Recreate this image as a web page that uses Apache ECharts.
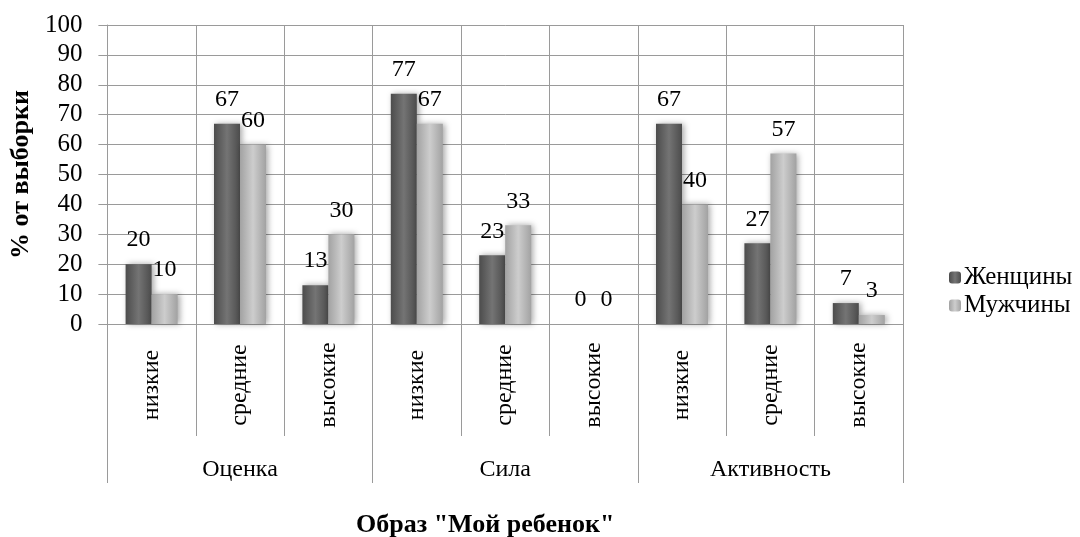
<!DOCTYPE html>
<html>
<head>
<meta charset="utf-8">
<script src="https://cdn.jsdelivr.net/npm/echarts@6/dist/echarts.min.js"></script>
<style>html,body{margin:0;padding:0;background:#fff}#c{width:1080px;height:537px}</style>
</head>
<body>
<div id="c"></div>
<script>
const levels = ['низкие','средние','высокие','низкие','средние','высокие','низкие','средние','высокие'];
const groups = ['Оценка','Сила','Активность'];
const women = [20, 67, 13, 77, 23, 0, 67, 27, 7];
const men = [10, 60, 30, 67, 33, 0, 40, 57, 3];
const seriesNames = ['Женщины','Мужчины'];
const yTicks = {min: 0, max: 100, interval: 10};
const yName = '% от выборки';
const xName = 'Образ "Мой ребенок"';

const FONT = "'Liberation Serif','Times New Roman',serif";
const chart = echarts.init(document.getElementById('c'));
function grad(edge, mid){
  return new echarts.graphic.LinearGradient(0,0,1,0,[
    {offset:0,color:edge},{offset:0.5,color:mid},{offset:1,color:edge}
  ]);
}
const gridColor = '#9a9a9a';
chart.setOption({
  animation:false,
  backgroundColor:'#fff',
  grid:{left:107,right:177,top:25,bottom:213},
  legend:{
    orient:'vertical', left:944, top:260,
    itemWidth:12, itemHeight:12, itemGap:3,
    textStyle:{fontFamily:FONT,fontSize:25,color:'#000',padding:[0,0,0,-2]},
    data:seriesNames
  },
  graphic:[{
    type:'text', left:356, top:512,
    style:{text:xName, font:"bold 26px 'Liberation Serif','Times New Roman',serif", fill:'#000'}
  }],
  xAxis:[{
    type:'category', data:levels,
    axisLine:{show:true,lineStyle:{color:gridColor}},
    axisTick:{show:true,length:112,lineStyle:{color:gridColor}},
    splitLine:{show:true,lineStyle:{color:gridColor}},
    axisLabel:{rotate:90,align:'center',verticalAlign:'middle',margin:61,
      fontFamily:FONT,fontSize:24,color:'#000',interval:0}
  },{
    type:'category', data:groups, position:'bottom', offset:112,
    axisLine:{show:false},
    axisTick:{show:true,length:47,lineStyle:{color:gridColor}},
    splitLine:{show:false},
    axisLabel:{margin:34,verticalAlign:'middle',fontFamily:FONT,fontSize:24,color:'#000'}
  }],
  yAxis:{
    type:'value', min:yTicks.min, max:yTicks.max, interval:yTicks.interval,
    name:yName, nameLocation:'middle', nameGap:82, nameRotate:90,
    nameTextStyle:{fontFamily:FONT,fontSize:26,fontWeight:'bold',color:'#000',verticalAlign:'middle'},
    axisLine:{show:true,lineStyle:{color:gridColor}},
    axisTick:{show:true,length:9,lineStyle:{color:gridColor}},
    splitLine:{show:true,lineStyle:{color:gridColor}},
    axisLabel:{margin:25,fontFamily:FONT,fontSize:25,color:'#000'}
  },
  series:[{
    name:seriesNames[0], type:'bar', data:women, barWidth:26, barGap:'0%',
    itemStyle:{color:grad('#4c4c4c','#747474'),shadowBlur:6,shadowColor:'rgba(0,0,0,0.35)',shadowOffsetX:2},
    label:{show:true,position:'top',distance:12,fontFamily:FONT,fontSize:24,color:'#000'}
  },{
    name:seriesNames[1], type:'bar', data:men, barWidth:26,
    itemStyle:{color:grad('#a2a2a2','#cdcdcd'),shadowBlur:6,shadowColor:'rgba(0,0,0,0.35)',shadowOffsetX:2},
    label:{show:true,position:'top',distance:12,fontFamily:FONT,fontSize:24,color:'#000'}
  }]
});
</script>
</body>
</html>
